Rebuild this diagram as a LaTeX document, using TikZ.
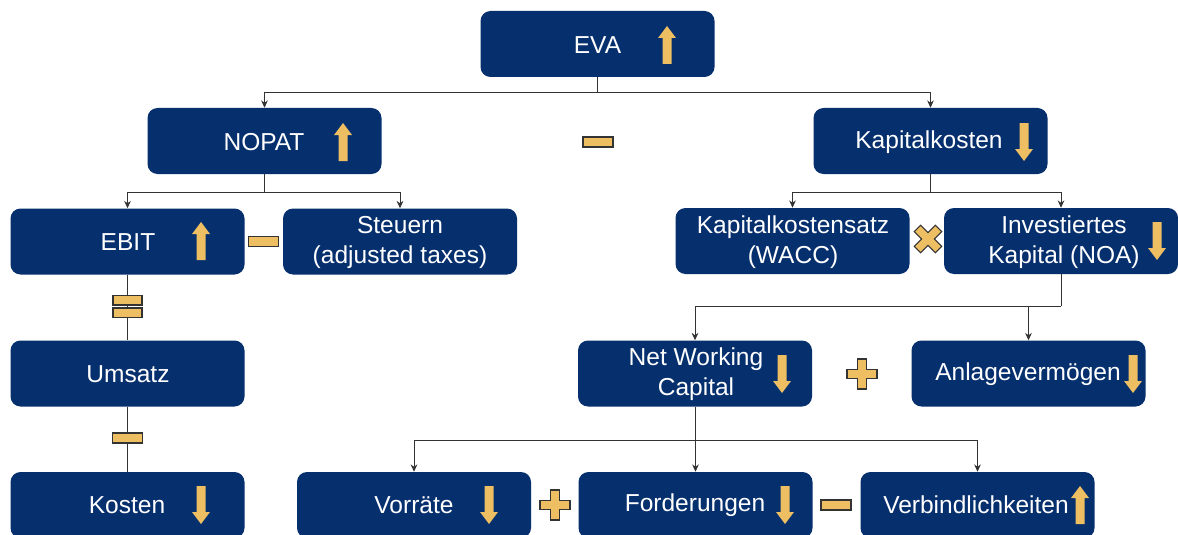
\documentclass[tikz,border=0pt]{standalone}
\usepackage{fontspec}
\setmainfont{Liberation Sans}
\usetikzlibrary{arrows.meta}
\definecolor{navy}{HTML}{062F6E}
\definecolor{gold}{HTML}{EDBE62}
\definecolor{edge}{HTML}{333333}
\tikzset{
  box/.style={draw=none, fill=navy, rounded corners=7.5pt, inner sep=0pt,
    minimum width=175.5pt, minimum height=49.5pt},
  lbl/.style={text=white, font=\fontsize{18.4}{22.5}\selectfont, align=center, inner sep=0pt},
  link/.style={draw=black!80, line width=0.65pt},
  tip/.style={link, -{Stealth[length=5.5pt,width=5pt]}},
  sym/.style={fill=gold, draw=edge, line width=0.8pt},
  uparrow/.pic={\fill[gold] (-4.5,19) -- (4.5,19) -- (4.5,-7) -- (9,-7) -- (0,-19) -- (-9,-7) -- (-4.5,-7) -- cycle;},
  downarrow/.pic={\fill[gold] (-4.5,-19) -- (4.5,-19) -- (4.5,7) -- (9,7) -- (0,19) -- (-9,7) -- (-4.5,7) -- cycle;},
  minus/.pic={\path[sym] (-15,-5) rectangle (15,5);},
  equal/.pic={\path[sym] (-14.5,-11) rectangle (14.5,-1.5); \path[sym] (-14.5,1.5) rectangle (14.5,11);},
  plus/.pic={\path[sym] (-4.5,-15) -- (4.5,-15) -- (4.5,-4.5) -- (15,-4.5) -- (15,4.5) -- (4.5,4.5) -- (4.5,15) -- (-4.5,15) -- (-4.5,4.5) -- (-15,4.5) -- (-15,-4.5) -- (-4.5,-4.5) -- cycle;},
}
\begin{document}
\begin{tikzpicture}[x=0.75pt,y=-0.75pt]
\useasboundingbox (0,0) rectangle (1178,535);
\fill[white] (0,0) rectangle (1178,535);

% boxes
\node[box] (eva)   at (597.5,44)  {};
\node[box] (nopat) at (264.5,141) {};
\node[box] (kk)    at (930.5,141) {};
\node[box] (ebit)  at (127.5,241.5) {};
\node[box] (st)    at (400,241.5) {};
\node[box] (wacc)  at (792.5,241) {};
\node[box] (noa)   at (1061,241) {};
\node[box] (ums)   at (127.5,373.5) {};
\node[box] (nwc)   at (695,373.5) {};
\node[box] (av)    at (1028.5,373.5) {};
\node[box] (kos)   at (127.5,505) {};
\node[box] (vor)   at (414,505) {};
\node[box] (ford)  at (695.5,505) {};
\node[box] (verb)  at (977.5,505) {};

% texts
\node[lbl] (teva)   at (597.5,45)  {EVA};
\node[lbl] (tnopat) at (264,142)   {NOPAT};
\node[lbl] (tkk)    at (929,142)   {Kapitalkosten};
\node[lbl] (tebit)  at (128,242)   {EBIT};
\node[lbl] (tst)    at (400,242)   {Steuern\\(adjusted taxes)};
\node[lbl] (twacc)  at (793,242)   {Kapitalkostensatz\\(WACC)};
\node[lbl] (tnoa)   at (1064,242)  {Investiertes\\Kapital (NOA)};
\node[lbl] (tums)   at (128,374)   {Umsatz};
\node[lbl] (tnwc)   at (696,374)   {Net Working\\Capital};
\node[lbl] (tav)    at (1028,374)  {Anlagevermögen};
\node[lbl] (tkos)   at (127,505)   {Kosten};
\node[lbl] (tvor)   at (414,505)   {Vorräte};
\node[lbl] (tford)  at (695,505)   {Forderungen};
\node[lbl] (tverb)  at (976,505)   {Verbindlichkeiten};

% trend arrows
\pic at (667,45)   {uparrow};
\pic at (343,142)  {uparrow};
\pic at (1024,142) {downarrow};
\pic at (201,241)  {uparrow};
\pic at (1157,241) {downarrow};
\pic at (782,374)  {downarrow};
\pic at (1133,374) {downarrow};
\pic at (201,505)  {downarrow};
\pic at (489,505)  {downarrow};
\pic at (785,505)  {downarrow};
\pic at (1080,505) {uparrow};

% connectors
\coordinate (j1) at (597.5,92);
\draw[link] (eva.south) -- (j1);
\draw[tip] (j1) -| (nopat.north);
\draw[tip] (j1) -| (kk.north);

\coordinate (j2) at (264.5,192);
\draw[link] (nopat.south) -- (j2);
\draw[tip] (j2) -| (ebit.north);
\draw[tip] (j2) -| (st.north);

\coordinate (j3) at (930.5,192);
\draw[link] (kk.south) -- (j3);
\draw[tip] (j3) -| (wacc.north);
\draw[tip] (j3) -| (noa.north);

\coordinate (j4) at (1061,306);
\draw[link] (noa.south) -- (j4);
\draw[tip] (j4) -| (nwc.north);
\draw[tip] (j4) -| (av.north);

\coordinate (j5) at (695,440);
\draw[link] (nwc.south) -- (j5);
\draw[tip] (j5) -| (vor.north);
\draw[tip] (j5) -| (ford.north);
\draw[tip] (j5) -| (verb.north);

\draw[link] (ebit.south) -- (ums.north);
\draw[link] (ums.south) -- (kos.north);

% operators
\pic at (598,142)   {minus};
\pic at (263.5,241.5) {minus};
\pic at (127.5,306.5) {equal};
\pic at (127.5,438) {minus};
\path[sym, rotate around={45:(928,239)}] (923.5,224) -- (932.5,224) -- (932.5,234.5) -- (943,234.5) -- (943,243.5) -- (932.5,243.5) -- (932.5,254) -- (923.5,254) -- (923.5,243.5) -- (913,243.5) -- (913,234.5) -- (923.5,234.5) -- cycle;
\pic at (862,374)   {plus};
\pic at (555,505)   {plus};
\pic at (836,505)   {minus};
\end{tikzpicture}
\end{document}
